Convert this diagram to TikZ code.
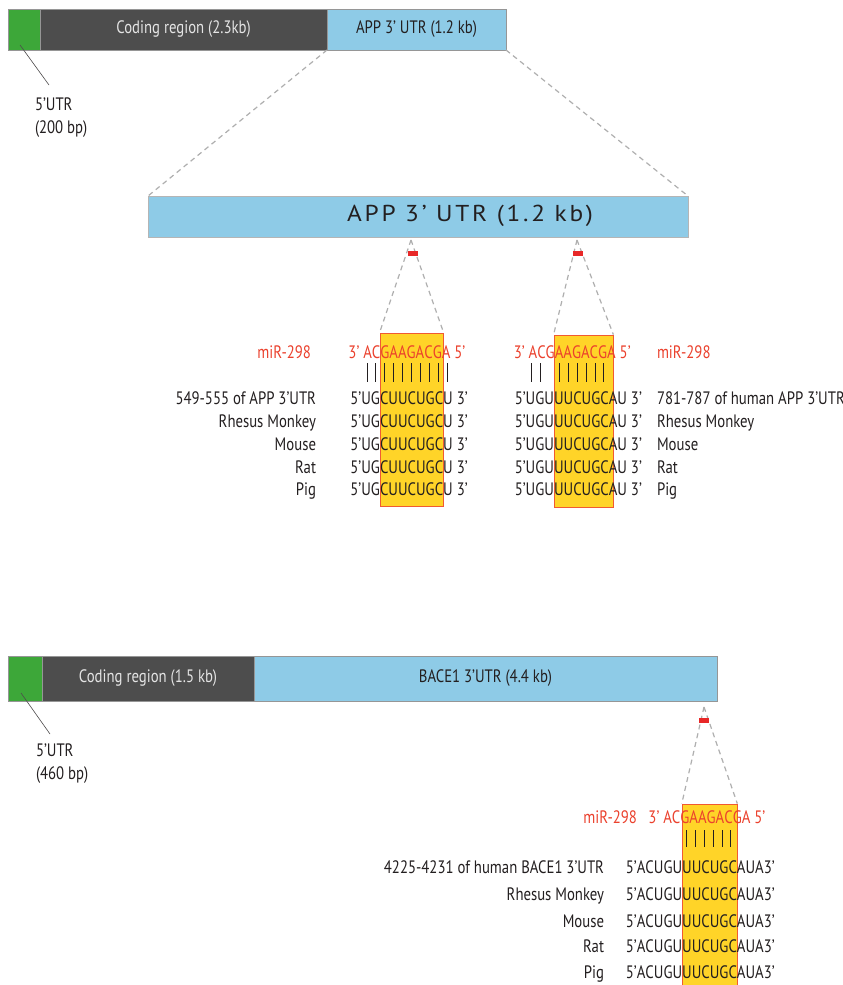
\documentclass[tikz,border=0pt]{standalone}
\usepackage{fontspec}
\setmainfont{PT Sans}[FakeStretch=0.82]
\newfontfamily\widefont{PT Sans}[FakeStretch=1.1,LetterSpace=12]
\usetikzlibrary{fit,calc}
\pgfdeclarelayer{bg}
\pgfsetlayers{bg,main}
\definecolor{ugreen}{RGB}{61,167,57}
\definecolor{cdark}{RGB}{77,77,77}
\definecolor{ublue}{RGB}{142,203,231}
\definecolor{barline}{RGB}{150,150,150}
\definecolor{codetxt}{RGB}{228,228,228}
\definecolor{markred}{RGB}{232,40,40}
\definecolor{hlyellow}{RGB}{255,212,40}
\definecolor{boxred}{RGB}{240,90,50}
\definecolor{mirred}{RGB}{235,65,45}
\definecolor{dashgrey}{RGB}{175,175,175}
\definecolor{txt}{RGB}{35,31,32}
\newcommand\seqfont{\fontsize{18}{22}\selectfont}
\tikzset{
  seqch/.style={anchor=base west, inner sep=0pt, outer sep=0pt, font=\seqfont},
  lbl/.style={inner sep=0pt, outer sep=0pt, font=\seqfont, text=txt},
  bar/.style={draw=barline, line width=0.6pt, inner sep=0pt, outer sep=0pt, anchor=north west, font=\seqfont},
  redmark/.style={fill=markred, inner sep=0pt, minimum width=10pt, minimum height=5pt},
  zoomln/.style={draw=dashgrey, line width=1.2pt, dash pattern=on 5pt off 4pt},
  leader/.style={draw=txt!80, line width=0.6pt},
  pairln/.style={draw=txt, line width=0.7pt},
  hlbox/.style={fill=hlyellow, draw=boxred, line width=0.8pt, inner sep=0pt},
}
% #1 colour, #2 name, #3 x of box edge, #4 baseline y, #5 text before the box edge, #6 list of characters
\newcommand\seqrow[6][txt]{%
  \node[seqch, anchor=base east] (#2-pfx) at (#3,#4) {\phantom{#5}};
  \foreach \ch [count=\k] in {#6}{%
    \ifnum\k=1
      \node[seqch,text=#1] (#2-\k) at (#2-pfx.base west) {\ch};%
    \else
      \pgfmathtruncatemacro\kp{\k-1}%
      \node[seqch,text=#1] (#2-\k) at (#2-\kp.base east) {\ch};%
    \fi}}
% #1 miR row, #2 target row, #3 top coordinate, #4 bottom coordinate, #5 pairs i/j
\newcommand\pairs[5]{%
  \foreach \i/\j in {#5}{%
    \path ($(#1-\i.center)!0.5!(#2-\j.center)$) coordinate (pp);
    \draw[pairln] (pp |- #3) -- (pp |- #4);}}
\begin{document}
\begin{tikzpicture}[x=1pt,y=-1pt]
\useasboundingbox (0,0) rectangle (843,985);
\begin{pgfonlayer}{bg}
\fill[white] (0,0) rectangle (843,985);
\end{pgfonlayer}

% ---------------- APP ----------------
\node[bar, fill=ugreen, minimum width=32pt, minimum height=41pt] (g1) at (8,9) {};
\node[bar, fill=cdark, minimum width=287pt, minimum height=41pt, text=codetxt] (d1) at (40,9) {Coding region (2.3kb)};
\node[bar, fill=ublue, minimum width=179pt, minimum height=41pt, text=txt] (b1) at (327,9) {APP 3’ UTR (1.2 kb)};

\coordinate (l1s) at (20,45);
\coordinate (l1e) at (49,85);
\draw[leader] (l1s) -- (l1e);
\node[lbl, anchor=base west] (u1a) at (35,110) {5’UTR};
\node[lbl, anchor=base west] (u1b) at (35,133) {(200 bp)};

\node[bar, draw=barline!70, fill=ublue, minimum width=540pt, minimum height=41pt] (big) at (148,196) {};
\node[inner sep=0pt, text=txt, font=\widefont\fontsize{23}{27}\selectfont] (bigt) at (470,216) {APP 3’ UTR (1.2 kb)};
\draw[zoomln] (b1.south west) -- (big.north west);
\draw[zoomln] (b1.south east) -- (big.north east);

% left site
\seqrow[mirred]{m1}{380}{358}{3’\ AC}{3’\ \null,A,C,G,A,A,G,A,C,G,A,\ 5’}
\seqrow{a1}{380}{404}{5’UG}{5’,U,G,C,U,U,C,U,G,C,U,\ 3’}
\seqrow{a2}{380}{427}{5’UG}{5’,U,G,C,U,U,C,U,G,C,U,\ 3’}
\seqrow{a3}{380}{450}{5’UG}{5’,U,G,C,U,U,C,U,G,C,U,\ 3’}
\seqrow{a4}{380}{473}{5’UG}{5’,U,G,C,U,U,C,U,G,C,U,\ 3’}
\seqrow{a5}{380}{495}{5’UG}{5’,U,G,C,U,U,C,U,G,C,U,\ 3’}
\coordinate (bt1) at (0,333);
\coordinate (bb1) at (0,506);
\begin{pgfonlayer}{bg}
\node[hlbox, fit=(a1-4.west |- bt1)(a1-10.east |- bb1)] (box1) {};
\end{pgfonlayer}
\coordinate (pt1) at (0,363);
\coordinate (pb1) at (0,382);
\pairs{m1}{a1}{pt1}{pb1}{2/2,3/3,4/4,5/5,6/6,7/7,8/8,9/9,10/10,11/11}
\node[lbl, text=mirred, anchor=base east] (mir1) at (311,358) {miR-298};
\node[lbl, anchor=base east] (la1) at (316,404) {549-555 of APP 3’UTR};
\node[lbl, anchor=base east] (la2) at (316,427) {Rhesus Monkey};
\node[lbl, anchor=base east] (la3) at (316,450) {Mouse};
\node[lbl, anchor=base east] (la4) at (316,473) {Rat};
\node[lbl, anchor=base east] (la5) at (316,495) {Pig};
\coordinate (ap1) at (411,240);
\draw[zoomln] (ap1) -- (box1.north west);
\draw[zoomln] (ap1) -- (box1.north east);
\node[redmark] (rm1) at (413,253.5) {};

% right site
\seqrow[mirred]{m2}{554}{358}{3’\ ACG}{3’\ \null,A,C,G,A,A,G,A,C,G,A,\ 5’}
\seqrow{c1}{554}{404}{5’UGU}{5’,U,G,U,U,U,C,U,G,C,A,U,\ 3’}
\seqrow{c2}{554}{427}{5’UGU}{5’,U,G,U,U,U,C,U,G,C,A,U,\ 3’}
\seqrow{c3}{554}{450}{5’UGU}{5’,U,G,U,U,U,C,U,G,C,A,U,\ 3’}
\seqrow{c4}{554}{473}{5’UGU}{5’,U,G,U,U,U,C,U,G,C,A,U,\ 3’}
\seqrow{c5}{554}{495}{5’UGU}{5’,U,G,U,U,U,C,U,G,C,A,U,\ 3’}
\coordinate (bt2) at (0,335);
\coordinate (bb2) at (0,507);
\coordinate (br2) at (613,0);
\begin{pgfonlayer}{bg}
\node[hlbox, fit=(c1-5.west |- bt2)(br2 |- bb2)] (box2) {};
\end{pgfonlayer}
\pairs{m2}{c1}{pt1}{pb1}{2/2,3/3,5/5,6/6,7/7,8/8,9/9,10/10}
\node[lbl, text=mirred, anchor=base west] (mir2) at (657,358) {miR-298};
\node[lbl, anchor=base west] (lc1) at (657,404) {781-787 of human APP 3’UTR};
\node[lbl, anchor=base west] (lc2) at (657,427) {Rhesus Monkey};
\node[lbl, anchor=base west] (lc3) at (657,450) {Mouse};
\node[lbl, anchor=base west] (lc4) at (657,473) {Rat};
\node[lbl, anchor=base west] (lc5) at (657,495) {Pig};
\coordinate (ap2) at (577,240);
\draw[zoomln] (ap2) -- (box2.north west);
\draw[zoomln] (ap2) -- (box2.north east);
\node[redmark] (rm2) at (577.5,253.5) {};

% ---------------- BACE1 ----------------
\node[bar, fill=ugreen, minimum width=34pt, minimum height=45pt] (g2) at (8,656) {};
\node[bar, fill=cdark, minimum width=212pt, minimum height=45pt, text=codetxt] (d2) at (42,656) {Coding region (1.5 kb)};
\node[bar, fill=ublue, minimum width=463pt, minimum height=45pt, text=txt] (b2) at (254,656) {BACE1 3’UTR (4.4 kb)};

\coordinate (l2s) at (21,693);
\coordinate (l2e) at (50,734);
\draw[leader] (l2s) -- (l2e);
\node[lbl, anchor=base west] (u2a) at (36,756) {5’UTR};
\node[lbl, anchor=base west] (u2b) at (36,779) {(460 bp)};

\seqrow[mirred]{m3}{680}{823}{3’\ AC}{3’\ \null,A,C,G,A,A,G,A,C,G,A,\ 5’}
\seqrow{e1}{680}{873}{5’ACUGU}{5’,A,C,U,G,U,U,U,C,U,G,C,A,U,A,3’}
\seqrow{e2}{680}{900}{5’ACUGU}{5’,A,C,U,G,U,U,U,C,U,G,C,A,U,A,3’}
\seqrow{e3}{680}{927}{5’ACUGU}{5’,A,C,U,G,U,U,U,C,U,G,C,A,U,A,3’}
\seqrow{e4}{680}{952}{5’ACUGU}{5’,A,C,U,G,U,U,U,C,U,G,C,A,U,A,3’}
\seqrow{e5}{680}{978}{5’ACUGU}{5’,A,C,U,G,U,U,U,C,U,G,C,A,U,A,3’}
\coordinate (bt3) at (0,804);
\coordinate (bb3) at (0,985);
\begin{pgfonlayer}{bg}
\node[hlbox, fit=(e1-7.west |- bt3)(e1-12.east |- bb3)] (box3) {};
\end{pgfonlayer}
\coordinate (pt3) at (0,830);
\coordinate (pb3) at (0,847);
\pairs{m3}{e1}{pt3}{pb3}{4/7,5/8,6/9,7/10,8/11,9/12}
\node[lbl, text=mirred, anchor=base east] (mir3) at (637,823) {miR-298};
\node[lbl, anchor=base east] (le1) at (604,873) {4225-4231 of human BACE1 3’UTR};
\node[lbl, anchor=base east] (le2) at (604,900) {Rhesus Monkey};
\node[lbl, anchor=base east] (le3) at (604,927) {Mouse};
\node[lbl, anchor=base east] (le4) at (604,952) {Rat};
\node[lbl, anchor=base east] (le5) at (604,978) {Pig};
\coordinate (ap3) at (704,707);
\draw[zoomln] (ap3) -- (box3.north west);
\draw[zoomln] (ap3) -- (box3.north east);
\node[redmark] (rm3) at (704,720.5) {};
\end{tikzpicture}
\end{document}
